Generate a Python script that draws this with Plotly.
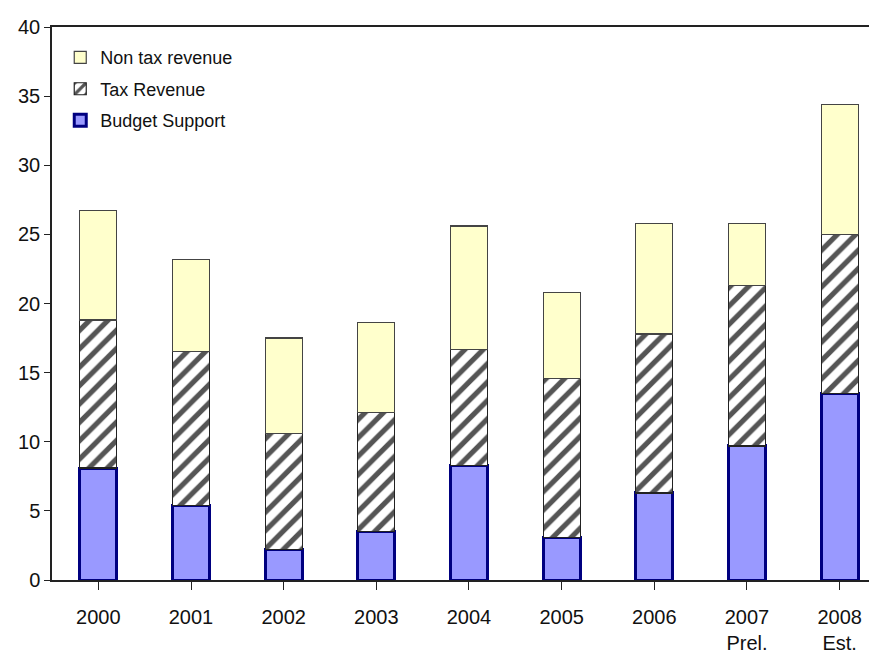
import plotly.graph_objects as go

categories = ["2000", "2001", "2002", "2003", "2004", "2005", "2006", "2007<br>Prel.", "2008<br>Est."]
budget_support = [8.1, 5.4, 2.2, 3.5, 8.3, 3.1, 6.3, 9.7, 13.5]
tax_revenue = [10.7, 11.1, 8.4, 8.6, 8.4, 11.5, 11.5, 11.6, 11.5]
non_tax_revenue = [7.9, 6.7, 6.9, 6.5, 8.9, 6.2, 8.0, 4.5, 9.4]

FONT = "Liberation Sans Narrow, Liberation Sans, Arial, sans-serif"
xs = list(range(len(categories)))

fig = go.Figure()
fig.add_trace(go.Bar(
    x=xs, y=budget_support, name="Budget Support", width=0.4, legendgroup="a", legendrank=3,
    marker=dict(color="#9999FF", line=dict(color="#000080", width=3)),
))
fig.add_trace(go.Bar(
    x=xs, y=tax_revenue, name="Tax Revenue", width=0.4, legendgroup="b", legendrank=2,
    marker=dict(color="white", line=dict(color="#222222", width=1.2),
                pattern=dict(shape="/", fgcolor="#555555", bgcolor="white", fgopacity=1,
                             size=13, solidity=0.4)),
))
fig.add_trace(go.Bar(
    x=xs, y=non_tax_revenue, name="Non tax revenue", width=0.4, legendgroup="c", legendrank=1,
    marker=dict(color="#FFFFCC", line=dict(color="#444444", width=1.2)),
))

# page body has an 8px margin, so plot offsets compensate for it
fig.update_layout(
    barmode="stack",
    width=877, height=660,
    margin=dict(l=44, r=8, t=12, b=88),
    paper_bgcolor="white", plot_bgcolor="white",
    font=dict(family=FONT, size=20, color="#111111"),
    showlegend=True,
    legend=dict(x=0.01, y=0.978, xanchor="left", yanchor="top", traceorder="grouped",
                font=dict(size=18), bgcolor="rgba(0,0,0,0)", itemwidth=30, tracegroupgap=5),
)
fig.update_xaxes(
    tickmode="array", tickvals=xs, ticktext=categories,
    range=[-0.5, 8.403], showline=True, linecolor="#222222", linewidth=1.5, mirror=True,
    ticks="outside", ticklen=8, tickcolor="#222222", tickson="boundaries",
    showgrid=False, zeroline=False, ticklabelstandoff=10,
)
fig.update_yaxes(
    range=[0, 40], tickvals=[0, 5, 10, 15, 20, 25, 30, 35, 40],
    showline=True, linecolor="#222222", linewidth=1.5,
    ticks="outside", ticklen=6, tickcolor="#222222",
    showgrid=False, zeroline=False,
)

fig.write_html("out.html")
